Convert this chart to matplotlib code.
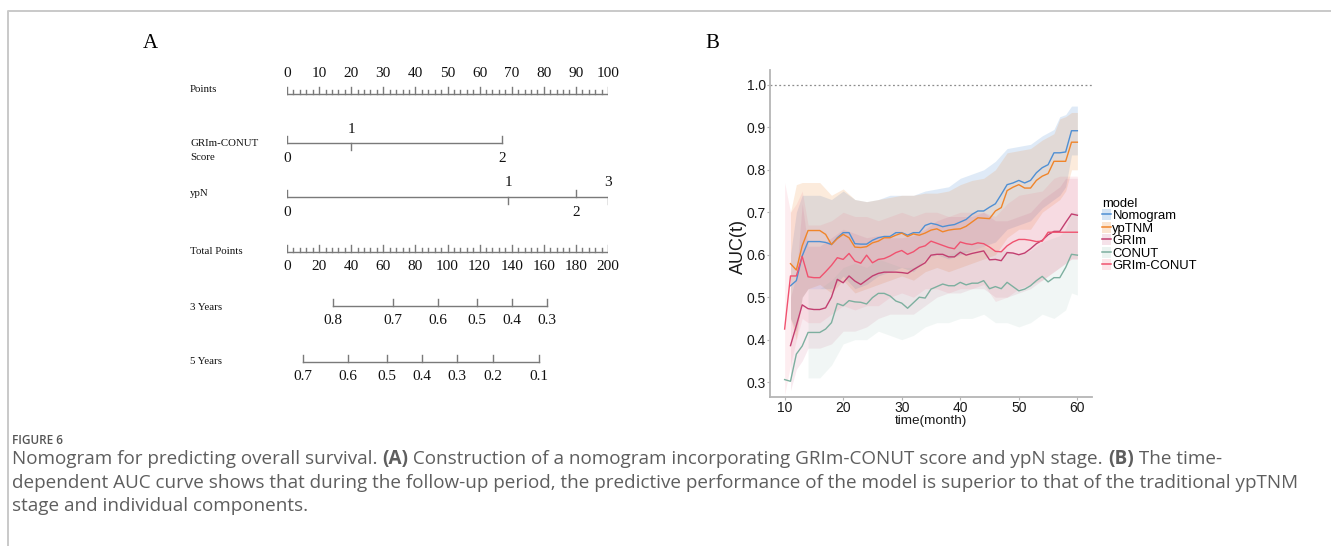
import matplotlib
matplotlib.use('Agg')
import matplotlib.pyplot as plt
import numpy as np
from matplotlib.lines import Line2D
from matplotlib.patches import Patch

# ---------------- data: nomogram (panel A) ----------------
points_major = list(range(0, 101, 10))
points_minor = list(range(0, 101, 2))
grim_conut_vals = ['0', '1', '2']
grim_conut_pts = [0, 20, 67]
ypn_vals = ['0', '1', '2', '3']
ypn_pts = [0, 69, 90, 100]
total_major = list(range(0, 201, 20))
total_minor = list(range(0, 201, 4))
surv3_labels = ['0.8', '0.7', '0.6', '0.5', '0.4', '0.3']
surv3_total = [28.7, 66.0, 94.1, 118.4, 140.2, 162.0]
surv5_labels = ['0.7', '0.6', '0.5', '0.4', '0.3', '0.2', '0.1']
surv5_total = [10.0, 38.0, 62.3, 84.1, 105.9, 128.3, 157.0]

# ---------------- data: time-dependent AUC (panel B) ----------------
months = list(range(10, 61))
nan = np.nan
auc_nomogram = [nan, 0.527, 0.539, 0.597, 0.631, 0.631, 0.631, 0.629, 0.624, 0.640,
                0.652, 0.652, 0.626, 0.625, 0.625, 0.634, 0.640, 0.643, 0.643, 0.652,
                0.652, 0.646, 0.652, 0.652, 0.669, 0.674, 0.671, 0.666, 0.669, 0.671,
                0.677, 0.683, 0.695, 0.703, 0.703, 0.712, 0.720, 0.742, 0.765, 0.769,
                0.775, 0.769, 0.775, 0.793, 0.805, 0.812, 0.840, 0.840, 0.842, 0.892, 0.892]
auc_yptnm = [nan, 0.579, 0.564, 0.621, 0.657, 0.657, 0.657, 0.648, 0.624, 0.638,
             0.648, 0.640, 0.618, 0.617, 0.619, 0.628, 0.632, 0.640, 0.640, 0.646,
             0.651, 0.643, 0.649, 0.646, 0.651, 0.658, 0.661, 0.654, 0.658, 0.660,
             0.661, 0.667, 0.677, 0.687, 0.686, 0.685, 0.703, 0.711, 0.751, 0.759,
             0.765, 0.757, 0.757, 0.775, 0.785, 0.791, 0.820, 0.820, 0.820, 0.865, 0.865]
auc_grim = [nan, 0.386, 0.433, 0.482, 0.473, 0.471, 0.471, 0.475, 0.500, 0.542,
            0.534, 0.550, 0.538, 0.530, 0.540, 0.550, 0.556, 0.559, 0.559, 0.559,
            0.558, 0.556, 0.565, 0.573, 0.581, 0.599, 0.601, 0.601, 0.595, 0.595,
            0.606, 0.599, 0.603, 0.606, 0.609, 0.588, 0.589, 0.586, 0.605, 0.604,
            0.600, 0.604, 0.614, 0.626, 0.634, 0.647, 0.655, 0.655, 0.676, 0.696, 0.693]
auc_conut = [0.306, 0.302, 0.366, 0.385, 0.417, 0.417, 0.417, 0.425, 0.440, 0.485,
             0.480, 0.492, 0.489, 0.488, 0.484, 0.499, 0.509, 0.509, 0.503, 0.491,
             0.486, 0.474, 0.487, 0.500, 0.498, 0.519, 0.525, 0.531, 0.527, 0.527,
             0.535, 0.529, 0.533, 0.533, 0.539, 0.520, 0.525, 0.520, 0.535, 0.525,
             0.515, 0.519, 0.527, 0.539, 0.549, 0.536, 0.546, 0.546, 0.570, 0.601, 0.599]
auc_grim_conut = [0.425, 0.550, 0.550, 0.596, 0.548, 0.546, 0.546, 0.560, 0.575, 0.593,
                  0.589, 0.603, 0.585, 0.580, 0.599, 0.581, 0.589, 0.591, 0.597, 0.605,
                  0.610, 0.601, 0.607, 0.617, 0.621, 0.632, 0.627, 0.622, 0.617, 0.614,
                  0.630, 0.626, 0.624, 0.628, 0.626, 0.618, 0.608, 0.607, 0.621, 0.630,
                  0.636, 0.636, 0.634, 0.631, 0.632, 0.653, 0.653, 0.653, 0.653, 0.653, 0.653]

# confidence bands, read on a coarser grid
band_months = [10, 11, 12, 13, 14, 16, 18, 20, 22, 24, 26, 28, 30, 32, 34, 36, 38, 40,
               42, 44, 46, 48, 50, 52, 54, 56, 57, 58, 59, 60]
nom_hi = [nan, 0.60, 0.70, 0.74, 0.74, 0.74, 0.73, 0.75, 0.73, 0.725, 0.73, 0.74, 0.74, 0.74,
          0.75, 0.755, 0.76, 0.78, 0.79, 0.80, 0.82, 0.85, 0.855, 0.86, 0.88, 0.895, 0.925,
          0.93, 0.95, 0.95]
nom_lo = [nan, 0.45, 0.42, 0.50, 0.52, 0.52, 0.52, 0.55, 0.52, 0.53, 0.55, 0.56, 0.57, 0.56,
          0.59, 0.60, 0.59, 0.60, 0.61, 0.62, 0.63, 0.66, 0.67, 0.68, 0.71, 0.73, 0.74,
          0.76, 0.835, 0.835]
typ_hi = [nan, 0.70, 0.765, 0.77, 0.77, 0.77, 0.74, 0.755, 0.73, 0.725, 0.73, 0.735, 0.74,
          0.74, 0.745, 0.745, 0.75, 0.765, 0.775, 0.78, 0.80, 0.84, 0.845, 0.85, 0.87, 0.885,
          0.92, 0.925, 0.935, 0.935]
typ_lo = [nan, 0.45, 0.40, 0.50, 0.52, 0.53, 0.51, 0.54, 0.51, 0.52, 0.53, 0.54, 0.55, 0.54,
          0.56, 0.57, 0.56, 0.57, 0.58, 0.59, 0.60, 0.64, 0.66, 0.66, 0.70, 0.72, 0.73,
          0.75, 0.80, 0.80]
grim_hi = [nan, 0.50, 0.55, 0.72, 0.62, 0.62, 0.64, 0.66, 0.65, 0.64, 0.645, 0.64, 0.64, 0.645,
           0.66, 0.68, 0.69, 0.69, 0.69, 0.70, 0.68, 0.68, 0.69, 0.70, 0.73, 0.75, 0.76,
           0.78, 0.78, 0.78]
grim_lo = [nan, 0.28, 0.33, 0.35, 0.38, 0.38, 0.39, 0.42, 0.42, 0.43, 0.45, 0.46, 0.46, 0.46,
           0.48, 0.50, 0.51, 0.51, 0.52, 0.52, 0.50, 0.50, 0.51, 0.52, 0.54, 0.56, 0.57,
           0.58, 0.59, 0.59]
conut_hi = [nan, nan, nan, nan, 0.52, 0.52, 0.54, 0.57, 0.58, 0.57, 0.59, 0.58, 0.57, 0.57,
            0.59, 0.60, 0.60, 0.61, 0.61, 0.62, 0.61, 0.61, 0.60, 0.61, 0.63, 0.64, 0.645,
            0.66, 0.70, 0.70]
conut_lo = [nan, nan, nan, nan, 0.31, 0.31, 0.34, 0.39, 0.40, 0.40, 0.42, 0.41, 0.40, 0.41,
            0.43, 0.44, 0.44, 0.45, 0.45, 0.46, 0.44, 0.44, 0.43, 0.44, 0.46, 0.45, 0.46,
            0.47, 0.51, 0.505]
gc_hi = [0.77, 0.70, 0.72, 0.75, 0.67, 0.67, 0.68, 0.70, 0.69, 0.69, 0.68, 0.69, 0.70, 0.69,
         0.70, 0.70, 0.69, 0.70, 0.70, 0.70, 0.69, 0.72, 0.74, 0.745, 0.75, 0.78, 0.785,
         0.785, 0.785, 0.785]
gc_lo = [0.27, 0.34, 0.40, 0.45, 0.44, 0.44, 0.46, 0.48, 0.47, 0.48, 0.48, 0.50, 0.51, 0.50,
         0.52, 0.52, 0.51, 0.52, 0.52, 0.53, 0.49, 0.50, 0.52, 0.53, 0.54, 0.56, 0.57,
         0.58, 0.59, 0.59]

model_names = ['Nomogram', 'ypTNM', 'GRIm', 'CONUT', 'GRIm-CONUT']
model_colors = ['#4f8fd3', '#f0852a', '#c23f70', '#7daf9f', '#f0526f']
model_alpha = [0.18, 0.16, 0.1, 0.1, 0.1]
model_lines = [auc_nomogram, auc_yptnm, auc_grim, auc_conut, auc_grim_conut]
model_bands = [(nom_lo, nom_hi), (typ_lo, typ_hi), (grim_lo, grim_hi),
               (conut_lo, conut_hi), (gc_lo, gc_hi)]

# ---------------- figure ----------------
W, H = 1331, 546
fig = plt.figure(figsize=(W / 100, H / 100), dpi=100)
fig.patch.set_facecolor('white')


def px_axes(left, top, right, bottom):
    return fig.add_axes([left / W, 1 - bottom / H, (right - left) / W, (bottom - top) / H])


bg = px_axes(0, 0, W, H)
bg.set_xlim(0, W)
bg.set_ylim(H, 0)
bg.axis('off')

# article frame
bg.plot([8, 8, W], [H, 11, 11], color='#c9c9c9', lw=1.4, solid_capstyle='butt')

serif = 'Liberation Serif'
sans = 'Liberation Sans'
bg.text(150, 44, 'A', family=serif, fontsize=15, ha='center', va='center')
bg.text(712, 44, 'B', family=serif, fontsize=15, ha='center', va='center')

# ---------------- panel A: nomogram ----------------
nom = px_axes(287, 0, 608, H)
nom.set_xlim(0, 100)
nom.set_ylim(H, 0)
nom.axis('off')
GREY = '#7a7a7a'
LAB_X = -30.2
num_kw = dict(family=serif, fontsize=11, ha='center', va='center', color='#111111')
lab_kw = dict(family=serif, fontsize=7.8, ha='left', va='center', color='#111111')


def scale_row(y, pos, labels, above, tick=7):
    nom.plot([min(pos), max(pos)], [y, y], color=GREY, lw=1)
    for p, lab, up in zip(pos, labels, above):
        if up:
            nom.plot([p, p], [y, y + tick], color=GREY, lw=1)
            nom.text(p, y - 14, lab, **num_kw)
        else:
            nom.plot([p, p], [y, y - tick], color=GREY, lw=1)
            nom.text(p, y + 15, lab, **num_kw)


# Points
y = 93.5
nom.plot([0, 100], [y, y], color=GREY, lw=1)
for p in points_minor:
    nom.plot([p, p], [y, y - (7 if p in points_major else 4)], color=GREY, lw=1)
for p in points_major:
    nom.text(p, 73.5, str(p), **num_kw)
nom.text(LAB_X, 89, 'Points', **lab_kw)

# GRIm-CONUT score
scale_row(143.3, grim_conut_pts, grim_conut_vals, [False, True, False])
nom.text(LAB_X, 143.3, 'GRIm-CONUT', **lab_kw)
nom.text(LAB_X, 157, 'Score', **lab_kw)

# ypN
scale_row(197, ypn_pts, ypn_vals, [False, True, False, True])
nom.text(LAB_X, 194, 'ypN', **lab_kw)

# Total points
y = 252.3
nom.plot([0, 100], [y, y], color=GREY, lw=1)
for t in total_minor:
    nom.plot([t / 2, t / 2], [y, y - (7 if t in total_major else 4)], color=GREY, lw=1)
for t in total_major:
    nom.text(t / 2, 266.7, str(t), **num_kw)
nom.text(LAB_X, 252, 'Total Points', **lab_kw)

# survival probabilities
scale_row(306, [t / 2 for t in surv3_total], surv3_labels, [False] * len(surv3_labels))
nom.text(LAB_X, 307, '3 Years', **lab_kw)
scale_row(361.7, [t / 2 for t in surv5_total], surv5_labels, [False] * len(surv5_labels))
nom.text(LAB_X, 362, '5 Years', **lab_kw)

# ---------------- panel B: time-dependent AUC ----------------
ax = px_axes(770, 70, 1092, 397)
ax.set_xlim(7.5, 62.5)
ax.set_ylim(0.265, 1.035)
for (lo, hi), c, a in zip(model_bands, model_colors, model_alpha):
    ax.fill_between(band_months, lo, hi, color=c, alpha=a, lw=0)
for vals, c in zip(model_lines, model_colors):
    ax.plot(months, vals, color=c, lw=1.0)
ax.axhline(1.0, color='#8c8c8c', lw=0.9, ls=(0, (1.5, 2)))

for s in ['top', 'right']:
    ax.spines[s].set_visible(False)
for s in ['left', 'bottom']:
    ax.spines[s].set_color('#b5b5b5')
    ax.spines[s].set_linewidth(1.3)
ax.set_xticks([10, 20, 30, 40, 50, 60])
ax.set_yticks([0.3, 0.4, 0.5, 0.6, 0.7, 0.8, 0.9, 1.0])
ax.set_yticklabels(['0.3', '0.4', '0.5', '0.6', '0.7', '0.8', '0.9', '1.0'])
ax.tick_params(length=2, width=0.8, color='#b5b5b5', pad=1, labelsize=10,
               labelcolor='#1a1a1a')
for lab in ax.get_xticklabels() + ax.get_yticklabels():
    lab.set_family(sans)
ax.set_xlabel('time(month)', family=sans, fontsize=9.7, labelpad=0, color='#1a1a1a')
ax.set_ylabel('AUC(t)', family=sans, fontsize=13, color='#1a1a1a')
ax.yaxis.set_label_coords(-0.072, 0.459)
ax.set_facecolor('none')

handles = [(Patch(facecolor=c, alpha=a + 0.05, lw=0), Line2D([], [], color=c, lw=1.1))
           for c, a in zip(model_colors, model_alpha)]
leg = fig.legend(handles, model_names, title='model', loc='upper left',
                 bbox_to_anchor=(1102 / W, 1 - 198 / H), frameon=False,
                 prop={'family': sans, 'size': 9.4},
                 title_fontproperties={'family': sans, 'size': 9.4},
                 handlelength=0.7, handleheight=0.9, handletextpad=0.1, labelspacing=-0.04,
                 borderpad=0, borderaxespad=0, alignment='left')

# ---------------- caption ----------------
cap_font = 'Open Sans'
cap_color = '#5e5e5e'
bg.text(12, 441, 'FIGURE 6', family=cap_font, fontsize=8.5, color='#555555', va='center',
        weight='semibold')


def rich_line(x, y, parts):
    prev = None
    for txt, bold in parts:
        kw = dict(family=cap_font, fontsize=13.6, color=cap_color,
                  weight='bold' if bold else 'normal', va='center', ha='left')
        if prev is None:
            prev = bg.text(x, y, txt, **kw)
        else:
            prev = bg.annotate(txt, xy=(1, 0.5), xycoords=prev, **kw)


rich_line(12, 459, [('Nomogram for predicting overall survival. ', False), ('(A)', True),
                    (' Construction of a nomogram incorporating GRIm-CONUT score and ypN stage. ', False),
                    ('(B)', True), (' The time-', False)])
rich_line(12, 483, [('dependent AUC curve shows that during the follow-up period, the predictive '
                     'performance of the model is superior to that of the traditional ypTNM', False)])
rich_line(12, 506, [('stage and individual components.', False)])

fig.savefig('out.png', dpi=100)
